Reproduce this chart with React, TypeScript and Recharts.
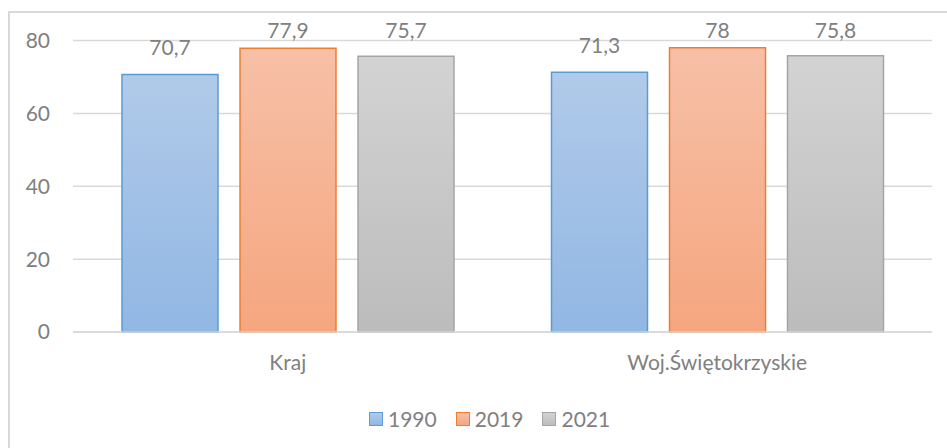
import React from 'react';
import { BarChart, Bar, XAxis, YAxis, CartesianGrid, LabelList, Legend } from 'recharts';

const categories = ['Kraj', 'Woj.Świętokrzyskie'];
const values1990 = [70.7, 71.3];
const values2019 = [77.9, 78];
const values2021 = [75.7, 75.8];
const yTicks = [0, 20, 40, 60, 80];

const seriesNames = ['1990', '2019', '2021'];
const seriesKeys = ['y1990', 'y2019', 'y2021'];
const strokes = ['#5b9bd5', '#ed7d31', '#a5a5a5'];
const topColors = ['#b1cae9', '#f7c0a7', '#d3d3d3'];
const bottomColors = ['#91b7e3', '#f5a67f', '#bcbcbc'];

const data = categories.map((c, i) => ({
  name: c,
  y1990: values1990[i],
  y2019: values2019[i],
  y2021: values2021[i],
}));

const FONT = 'Lato, "Open Sans", sans-serif';
const TEXT = '#808080';

const fmt = (v: any) => String(v).replace('.', ',');

const renderLabel = (props: any) => {
  const { x, y, width, value } = props;
  const baseline = Math.max(Number(y) - 19, 27);
  return (
    <text
      x={Number(x) + Number(width) / 2}
      y={baseline}
      textAnchor="middle"
      fill={TEXT}
      fontSize={21}
      fontFamily={FONT}
    >
      {fmt(value)}
    </text>
  );
};

const LegendContent = () => (
  <div style={{ display: 'flex', alignItems: 'center', height: 30, paddingLeft: 361, fontFamily: FONT, fontSize: 21, color: TEXT }}>
    {seriesNames.map((n, i) => (
      <div key={n} style={{ display: 'flex', alignItems: 'center', marginRight: 19 }}>
        <div
          style={{
            width: 12,
            height: 12,
            border: `1.5px solid ${strokes[i]}`,
            background: `linear-gradient(${topColors[i]}, ${bottomColors[i]})`,
            marginRight: 5,
          }}
        />
        <span style={{ lineHeight: '30px' }}>{n}</span>
      </div>
    ))}
  </div>
);

export default function App() {
  return (
    <div
      style={{
        position: 'absolute',
        left: 8,
        top: 11,
        width: 939,
        height: 437,
        borderLeft: '2px solid #d9d9d9',
        borderTop: '2px solid #d9d9d9',
        boxSizing: 'border-box',
        background: '#fff',
      }}
    >
      <div style={{ position: 'absolute', left: -2, top: -2 }}>
        <BarChart
          width={939}
          height={437}
          data={data}
          margin={{ top: 29.5, right: 15, left: 15, bottom: 14 }}
          barSize={96}
          barGap={22}
        >
          <defs>
            {seriesKeys.map((k, i) => (
              <linearGradient key={k} id={`g-${k}`} x1="0" y1="0" x2="0" y2="1">
                <stop offset="0%" stopColor={topColors[i]} />
                <stop offset="100%" stopColor={bottomColors[i]} />
              </linearGradient>
            ))}
          </defs>
          <CartesianGrid vertical={false} stroke="#d9d9d9" strokeWidth={1.5} />
          <XAxis
            dataKey="name"
            height={72}
            tickLine={false}
            axisLine={{ stroke: '#d9d9d9', strokeWidth: 1.5 }}
            tickSize={0}
            tickMargin={23}
            tick={{ fill: TEXT, fontSize: 21, fontFamily: FONT }}
          />
          <YAxis
            width={50}
            domain={[0, 80]}
            ticks={yTicks}
            axisLine={false}
            tickLine={false}
            tickSize={0}
            tickMargin={23}
            tick={{ fill: TEXT, fontSize: 21, fontFamily: FONT }}
          />
          <Legend verticalAlign="bottom" content={<LegendContent />} wrapperStyle={{ left: 0, width: 939 }} />
          {seriesKeys.map((k, i) => (
            <Bar
              key={k}
              dataKey={k}
              name={seriesNames[i]}
              fill={`url(#g-${k})`}
              stroke={strokes[i]}
              strokeWidth={1.5}
              isAnimationActive={false}
            >
              <LabelList dataKey={k} content={renderLabel} />
            </Bar>
          ))}
        </BarChart>
      </div>
    </div>
  );
}
